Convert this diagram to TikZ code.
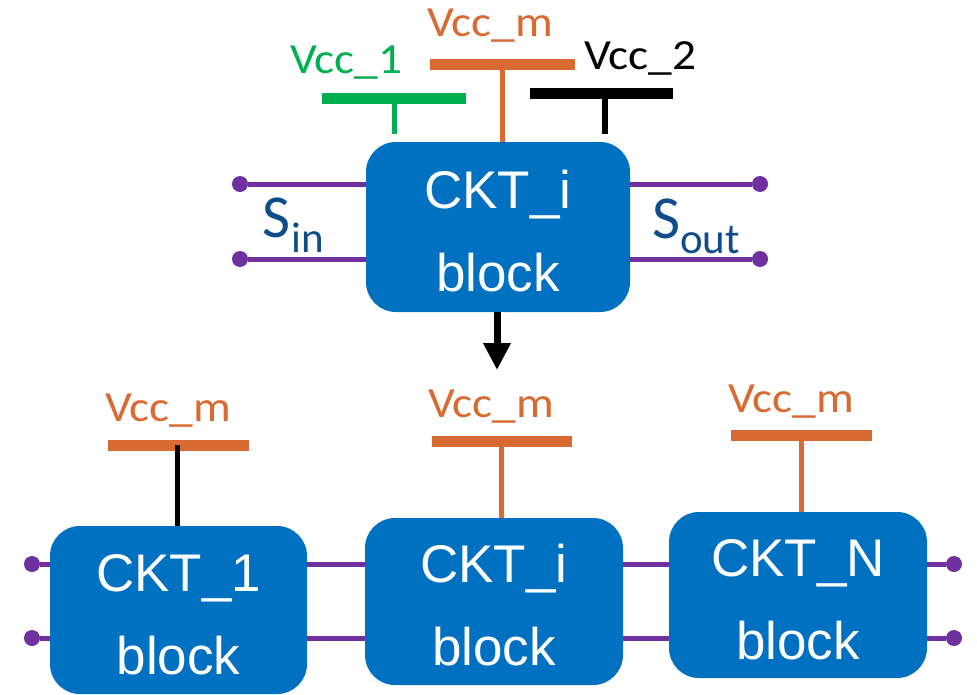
\documentclass[tikz,border=0pt]{standalone}
\usepackage{fontspec}
\setmainfont{Carlito}
\newfontfamily\arialf{Liberation Sans}
\newfontfamily\vccf[FakeStretch=1.1]{Carlito}
\usetikzlibrary{arrows.meta}
\definecolor{cblue}{HTML}{0070C0}
\definecolor{corange}{HTML}{D86A32}
\definecolor{cgreen}{HTML}{00B050}
\definecolor{cpurple}{HTML}{7030A0}
\definecolor{cdark}{HTML}{0F4D8A}
\newcommand{\blktext}[2]{\rule{0pt}{46pt}#1\\[8pt]#2}
\tikzset{
  blk/.style={draw=none, fill=cblue, rounded corners=30pt, minimum width=#1, inner sep=0pt,
     text=white, align=center, font=\arialf\fontsize{53}{75}\selectfont},
  bar/.style={fill=#1, minimum width=144pt, minimum height=11pt, inner sep=0pt},
  lbl/.style={text=#1, inner sep=0pt, anchor=base, font=\vccf\fontsize{43}{48}\selectfont},
  dotn/.style={circle, fill=cpurple, minimum size=16pt, inner sep=0pt},
  sig/.style={draw=cpurple, line width=5pt},
  stem/.style={draw=#1, line width=5pt},
}
\begin{document}
\begin{tikzpicture}[x=1pt,y=-1pt]
\useasboundingbox (0,0) rectangle (977,694);
% top block
\node[blk=264pt, minimum height=170pt] (top) at (498,227) {\blktext{CKT\_i}{block}};
\node[dotn] (tl1) at (240,184) {};
\node[dotn] (tl2) at (240,259) {};
\node[dotn] (tr1) at (760,184) {};
\node[dotn] (tr2) at (760,259) {};
\draw[sig] (tl1) -- (tl1 -| top.west);
\draw[sig] (tl2) -- (tl2 -| top.west);
\draw[sig] (tr1) -- (tr1 -| top.east);
\draw[sig] (tr2) -- (tr2 -| top.east);
\node[text=cdark, inner sep=0pt, anchor=base west, font=\fontsize{61}{64}\selectfont] (sin) at (262,237) {S};
\node[text=cdark, inner sep=0pt, anchor=base west, font=\fontsize{43}{46}\selectfont] (sinsub) at (291,252) {in};
\node[text=cdark, inner sep=0pt, anchor=base west, font=\fontsize{61}{64}\selectfont] (sout) at (652,238) {S};
\node[text=cdark, inner sep=0pt, anchor=base west, font=\fontsize{43}{46}\selectfont] (soutsub) at (680,253) {out};
% supplies on top
\node[bar=cgreen] (b1) at (394,98) {};
\node[bar=corange, minimum width=145pt] (bm) at (502.5,64) {};
\node[bar=black, minimum width=143pt] (b2) at (601.5,93) {};
\draw[stem=cgreen] (b1.center) -- (394,134);
\draw[stem=corange] (bm.center) -- (bm |- top.north);
\draw[stem=black, line width=6pt] (605,93) -- (605,134);
\node[lbl=cgreen] (l1) at (346,73) {Vcc\_1};
\node[lbl=corange] (lm) at (490,36) {Vcc\_m};
\node[lbl=black] (l2) at (640,69) {Vcc\_2};
% arrow
\coordinate (arr) at (497,370);
\draw[line width=7pt, -{Triangle[length=27pt,width=26pt]}] (top.south -| arr) -- (arr);
% bottom blocks
\node[blk=257pt, minimum height=168pt] (c1) at (178.5,610) {\blktext{CKT\_1}{block}};
\node[blk=258pt, minimum height=167pt] (ci) at (494,601.5) {\blktext{CKT\_i}{block}};
\node[blk=258pt, minimum height=166pt] (cn) at (798,595) {\blktext{CKT\_N}{block}};
\node[dotn] (bl1) at (32,564) {};
\node[dotn] (bl2) at (32,638) {};
\node[dotn] (br1) at (954,564) {};
\node[dotn] (br2) at (954,638) {};
\draw[sig] (bl1) -- (bl1 -| c1.west);
\draw[sig] (bl2) -- (bl2 -| c1.west);
\draw[sig] (bl1 -| c1.east) -- (bl1 -| ci.west);
\draw[sig] (bl2 -| c1.east) -- (bl2 -| ci.west);
\draw[sig] (bl1 -| ci.east) -- (bl1 -| cn.west);
\draw[sig] (bl2 -| ci.east) -- (bl2 -| cn.west);
\draw[sig] (br1) -- (br1 -| cn.east);
\draw[sig] (br2) -- (br2 -| cn.east);
\node[bar=corange, minimum width=141pt] (v1) at (178.5,445) {};
\node[bar=corange, minimum width=140pt] (v2) at (502,441.5) {};
\node[bar=corange, minimum width=141pt] (v3) at (801.5,435.5) {};
\draw[stem=black] (177,445) -- (177,526);
\draw[stem=corange] (501,441.5) -- (501,0 |- ci.north);
\draw[stem=corange] (v3.center) -- (v3 |- cn.north);
\node[lbl=corange] (vl1) at (168,421) {Vcc\_m};
\node[lbl=corange] (vl2) at (491,417) {Vcc\_m};
\node[lbl=corange] (vl3) at (791,412) {Vcc\_m};
\end{tikzpicture}
\end{document}
